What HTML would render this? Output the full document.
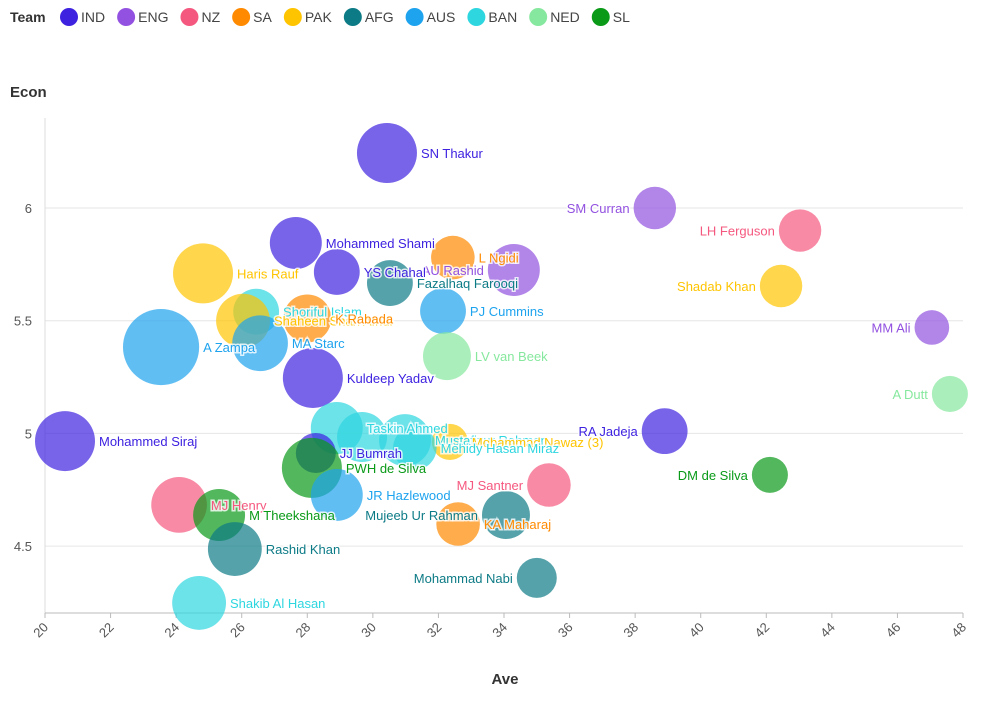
<!DOCTYPE html>
<html><head><meta charset="utf-8"><style>
body{margin:0;background:#fff;font-family:"Liberation Sans",sans-serif}
svg text{font-family:"Liberation Sans",sans-serif}
</style></head><body>
<svg id="c" width="982" height="697"></svg>
<script>
const names=["SN Thakur","SM Curran","LH Ferguson","Mohammed Shami","L Ngidi","AU Rashid","YS Chahal","Haris Rauf","Fazalhaq Farooqi","Shadab Khan","PJ Cummins","Shoriful Islam","Shaheen Shah Afridi","K Rabada","MM Ali","A Zampa","MA Starc","LV van Beek","Kuldeep Yadav","A Dutt","Mohammed Siraj","RA Jadeja","Taskin Ahmed","Mustafizur Rahman","Mohammad Nawaz (3)","Mehidy Hasan Miraz","JJ Bumrah","PWH de Silva","DM de Silva","MJ Santner","JR Hazlewood","MJ Henry","M Theekshana","Mujeeb Ur Rahman","KA Maharaj","Rashid Khan","Mohammad Nabi","Shakib Al Hasan","Hasan Mahmud"];
const teams=["IND","ENG","NZ","IND","SA","ENG","IND","PAK","AFG","PAK","AUS","BAN","PAK","SA","ENG","AUS","AUS","NED","IND","NED","IND","IND","BAN","BAN","PAK","BAN","IND","SL","SL","NZ","AUS","NZ","SL","AFG","SA","AFG","AFG","BAN","BAN"];
const aves=[30.43,38.6,43.03,27.65,32.44,34.3,28.9,24.82,30.52,42.45,32.14,26.44,26.04,28.0,47.05,23.54,26.56,32.26,28.17,47.6,20.61,38.9,28.9,30.98,32.35,31.28,28.26,28.14,42.11,35.37,28.9,24.09,25.31,34.06,32.6,25.79,35.0,24.7,29.67];
const econs=[6.244,6.0,5.90,5.845,5.78,5.725,5.716,5.71,5.667,5.654,5.543,5.54,5.50,5.51,5.47,5.383,5.40,5.343,5.246,5.175,4.966,5.01,5.024,4.97,4.962,4.935,4.913,4.847,4.816,4.771,4.727,4.683,4.638,4.638,4.598,4.487,4.359,4.248,4.984];
const wkts=[36,18,18,27,19,27,21,36,21,18,21,21,29,23,12,58,31,23,36,13,36,21,27,27,13,19,16,36,13,19,27,31,27,23,19,29,16,29,25];
const leftLabel=["SM Curran","LH Ferguson","Shadab Khan","MM Ali","A Dutt","RA Jadeja","DM de Silva","MJ Santner","Mujeeb Ur Rahman","Mohammad Nabi","AU Rashid"];
const xTicks=[20,22,24,26,28,30,32,34,36,38,40,42,44,46,48];
const yTicks=[4.5,5,5.5,6];
const teamList=["IND","ENG","NZ","SA","PAK","AFG","AUS","BAN","NED","SL"];
const colors={IND:"#3d22e0",ENG:"#9251e0",NZ:"#f5587f",SA:"#ff8a00",PAK:"#ffc400",AFG:"#0d7b86",AUS:"#1ea3ee",BAN:"#2ed6e0",NED:"#86e89e",SL:"#0a9a18"};
const X=v=>45+(v-20)*32.786, Y=v=>208-(v-6)*225.4, R=w=>Math.sqrt(w)*5;
const svg=document.getElementById('c'),NS="http://www.w3.org/2000/svg";
function el(t,a,p){const e=document.createElementNS(NS,t);for(const k in a)e.setAttribute(k,a[k]);(p||svg).appendChild(e);return e;}
// legend
let t=el('text',{x:10,y:22,'font-size':14,'font-weight':'bold',fill:'#333'});t.textContent="Team";

let lx=60;
teamList.forEach(tm=>{const g=el('g',{});


el('circle',{cx:lx+9,cy:17,r:9,fill:colors[tm]},g);
const tt=el('text',{x:lx+21,y:22,'font-size':14,fill:'#444'},g);tt.textContent=tm;
lx+=21+tt.getComputedTextLength()+12;});
// axis titles
t=el('text',{x:10,y:97,'font-size':15,'font-weight':'bold',fill:'#333'});t.textContent="Econ";

t=el('text',{x:505,y:684,'font-size':15,'font-weight':'bold',fill:'#333','text-anchor':'middle'});t.textContent="Ave";

// grid
yTicks.forEach(v=>{const l=el('line',{x1:45,x2:963,y1:Y(v),y2:Y(v),stroke:'#e6e6e6'});

const tx=el('text',{x:32,y:Y(v)+5,'font-size':13,fill:'#555','text-anchor':'end'});tx.textContent=String(v);
});
let a=el('line',{x1:45,x2:45,y1:118,y2:613,stroke:'#ddd'});
a=el('line',{x1:45,x2:963,y1:613,y2:613,stroke:'#bbb'});
xTicks.forEach(v=>{const l=el('line',{x1:X(v),x2:X(v),y1:613,y2:618,stroke:'#bbb'});

const tx=el('text',{x:X(v)+4,y:628,'font-size':13,fill:'#555','text-anchor':'end',transform:`rotate(-45 ${X(v)+4} 628)`});tx.textContent=String(v);
});
// bubbles
const gB=el('g',{}),gL=el('g',{});
names.forEach((n,i)=>{const c=el('circle',{cx:X(aves[i]),cy:Y(econs[i]),r:R(wkts[i]),fill:colors[teams[i]],'fill-opacity':0.7},gB);


if(n==="Hasan Mahmud")return;
const left=leftLabel.includes(n);const r=R(wkts[i]);
const lbl=el('text',{x:left?X(aves[i])-r-4:X(aves[i])+r+4,y:Y(econs[i])+5,'font-size':13,fill:colors[teams[i]],'text-anchor':left?'end':'start',stroke:'#fff','stroke-width':3,'paint-order':'stroke','stroke-opacity':0.8},gL);
lbl.textContent=n;

});
</script>
</body></html>
